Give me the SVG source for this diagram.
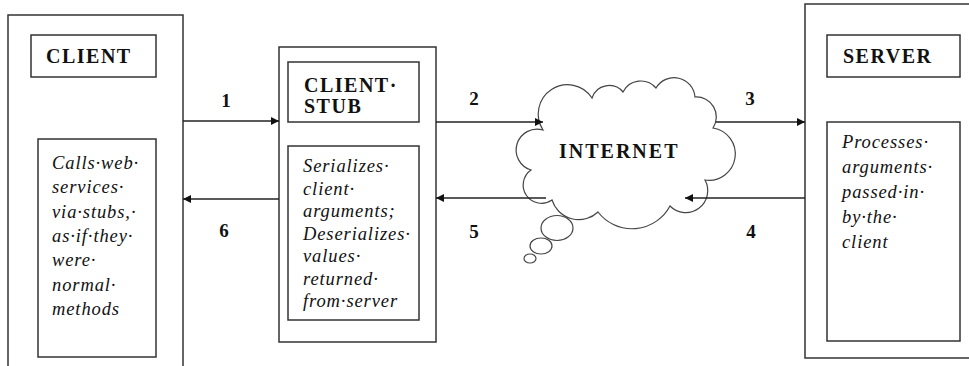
<svg xmlns="http://www.w3.org/2000/svg" width="969" height="366" viewBox="0 0 969 366">
<defs>
<style>
.box{fill:#fff;stroke:#333;stroke-width:1.5}
.lbl{font-family:"Liberation Serif","Times New Roman",serif;font-weight:bold;font-size:20px;letter-spacing:1.5px;fill:#111}
.it{font-family:"Liberation Serif","Times New Roman",serif;font-style:italic;font-size:18.5px;letter-spacing:0.9px;fill:#111}
.num{font-family:"Liberation Serif","Times New Roman",serif;font-weight:bold;font-size:19px;fill:#111;text-anchor:middle}
.ln{stroke:#222;stroke-width:1.4;fill:none;marker-end:url(#ah)}
.cloud{fill:#fff;stroke:#444;stroke-width:1.2}
</style>
<marker id="ah" viewBox="0 0 10 10" refX="10" refY="5" markerWidth="10" markerHeight="8" markerUnits="userSpaceOnUse" orient="auto">
<path d="M0,0 L10,5 L0,10 Z" fill="#111"/>
</marker>
</defs>
<rect width="969" height="366" fill="#fff"/>

<g id="client">
<rect class="box" x="8" y="15" width="175" height="360"/>
<rect class="box" x="31" y="35" width="125" height="42"/>
<text class="lbl" x="46" y="63">CLIENT</text>
<rect class="box" x="38" y="139" width="118" height="218"/>
<text class="it" x="52" y="169">Calls·web·</text>
<text class="it" x="52" y="193">services·</text>
<text class="it" x="52" y="218">via·stubs,·</text>
<text class="it" x="52" y="242">as·if·they·</text>
<text class="it" x="52" y="266">were·</text>
<text class="it" x="52" y="291">normal·</text>
<text class="it" x="52" y="315">methods</text>
</g>

<g id="client-stub">
<rect class="box" x="279" y="47" width="157" height="295"/>
<rect class="box" x="288" y="62" width="131" height="60"/>
<text class="lbl" x="304" y="92">CLIENT·</text>
<text class="lbl" x="304" y="113">STUB</text>
<rect class="box" x="288" y="146" width="131" height="174"/>
<text class="it" x="303" y="172">Serializes·</text>
<text class="it" x="303" y="194.5">client·</text>
<text class="it" x="303" y="217">arguments;</text>
<text class="it" x="303" y="239.5">Deserializes·</text>
<text class="it" x="303" y="262">values·</text>
<text class="it" x="303" y="284.5">returned·</text>
<text class="it" x="303" y="307">from·server</text>
</g>

<g id="server">
<rect class="box" x="805" y="4" width="180" height="354"/>
<rect class="box" x="827" y="35" width="133" height="42"/>
<text class="lbl" x="843" y="63">SERVER</text>
<rect class="box" x="827" y="122" width="133" height="219"/>
<text class="it" x="842" y="148">Processes·</text>
<text class="it" x="842" y="173">arguments·</text>
<text class="it" x="842" y="198">passed·in·</text>
<text class="it" x="842" y="223">by·the·</text>
<text class="it" x="842" y="248">client</text>
</g>

<g id="internet">
<ellipse class="cloud" cx="557" cy="228" rx="16" ry="12.5"/>
<ellipse class="cloud" cx="541" cy="246" rx="11" ry="8"/>
<ellipse class="cloud" cx="530" cy="258.5" rx="6" ry="4.5"/>
<path class="cloud" d="M543,130 A28,28 0 0 1 592,98 A18,18 0 0 1 623,92 A20,20 0 0 1 656,88 A21,21 0 0 1 695,97 A20,20 0 0 1 713,128 A26,26 0 0 1 705,180 A22,22 0 0 1 670,206 A43,43 0 0 1 598,212 A28,28 0 0 1 552,200 A18,18 0 0 1 531,170 A20,20 0 0 1 543,130 Z"/>
<text class="lbl" x="559" y="158" style="letter-spacing:2px">INTERNET</text>
</g>

<g id="connectors">
<line class="ln" x1="183" y1="121" x2="279" y2="121"/>
<line class="ln" x1="279" y1="199" x2="183" y2="199"/>
<line class="ln" x1="436" y1="122" x2="543" y2="122"/>
<line class="ln" x1="546" y1="198" x2="436" y2="198"/>
<line class="ln" x1="716" y1="122" x2="805" y2="122"/>
<line class="ln" x1="805" y1="198" x2="685" y2="198"/>
<text class="num" x="226" y="107">1</text>
<text class="num" x="474" y="105">2</text>
<text class="num" x="750" y="105">3</text>
<text class="num" x="751" y="238">4</text>
<text class="num" x="474" y="238">5</text>
<text class="num" x="224" y="237">6</text>
</g>
</svg>
